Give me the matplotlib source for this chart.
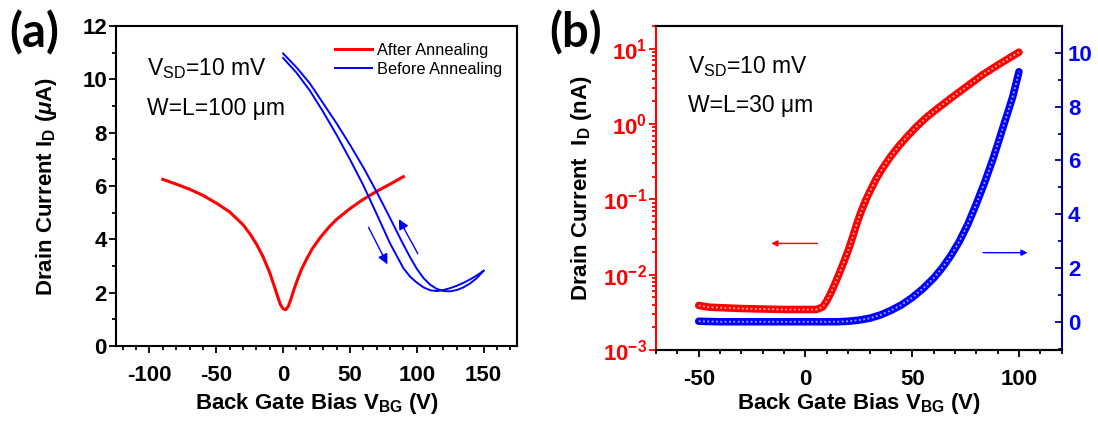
"""Transfer curves of the graphene FETs: (a) linear scale, (b) log / linear twin axes."""

import matplotlib

matplotlib.use("Agg")
import matplotlib.pyplot as plt
from matplotlib.ticker import MultipleLocator, LogLocator

plt.rcParams["font.family"] = ["Liberation Sans", "DejaVu Sans"]
plt.rcParams["mathtext.fontset"] = "custom"
plt.rcParams["mathtext.it"] = "Liberation Sans:italic:bold"
plt.rcParams["mathtext.rm"] = "Liberation Sans"
plt.rcParams["axes.unicode_minus"] = False

# ---- panel (a): I_D (uA) vs V_BG, W=L=100 um ----
after_v = [-90, -80, -70, -60, -50, -40, -30, -25, -20, -15, -10, -7, -4, -2, 0, 2, 4, 6, 8,
           11, 14, 18, 22, 28, 34, 40, 50, 60, 70, 80, 90]
after_i = [6.25, 6.07, 5.88, 5.65, 5.36, 5.03, 4.55, 4.22, 3.83, 3.35, 2.75, 2.3, 1.85, 1.55,
           1.4, 1.36, 1.5, 1.78, 2.1, 2.52, 2.9, 3.3, 3.66, 4.08, 4.44, 4.75, 5.15, 5.5, 5.8,
           6.07, 6.35]

# forward sweep 0 -> 150 V (left branch), backward sweep 150 -> 0 V (right branch)
fwd_v = [0, 10, 20, 30, 40, 50, 60, 70, 80, 90, 95, 100, 105, 110, 115, 120, 125, 130, 135,
         140, 145, 150]
fwd_i = [10.8, 10.25, 9.58, 8.78, 7.92, 7.0, 6.03, 4.95, 3.85, 2.92, 2.6, 2.38, 2.2, 2.09,
         2.06, 2.1, 2.17, 2.26, 2.37, 2.5, 2.65, 2.82]
bwd_v = [150, 145, 140, 135, 130, 125, 120, 115, 110, 105, 100, 95, 90, 85, 80, 70, 60, 50,
         40, 30, 20, 10, 0]
bwd_i = [2.82, 2.55, 2.35, 2.2, 2.1, 2.05, 2.06, 2.14, 2.3, 2.55, 2.9, 3.33, 3.8, 4.3, 4.8,
         5.78, 6.7, 7.55, 8.35, 9.1, 9.85, 10.45, 10.97]

# ---- panel (b): W=L=30 um ----
log_v = [-50, -45, -40, -30, -20, -10, 0, 5, 8, 10, 12, 14, 16, 18, 20, 22, 24, 26, 28, 30,
         33, 36, 40, 44, 48, 52, 57, 62, 68, 75, 83, 91, 100]
log_i = [3.9e-3, 3.7e-3, 3.65e-3, 3.55e-3, 3.5e-3, 3.45e-3, 3.45e-3, 3.45e-3, 3.7e-3, 4.5e-3,
         5.8e-3, 7.8e-3, 1.07e-2, 1.48e-2, 2.1e-2, 3.1e-2, 4.7e-2, 6.8e-2, 9.4e-2, 0.125,
         0.184, 0.256, 0.374, 0.521, 0.70, 0.923, 1.25, 1.62, 2.19, 3.07, 4.52, 6.3, 9.0]

lin_v = [-50, -40, -30, -20, -10, 0, 10, 15, 20, 25, 30, 35, 40, 45, 50, 55, 60, 64, 68, 72,
         76, 80, 84, 88, 91, 94, 97, 100]
lin_i = [0.02, 0.0, 0.0, 0.0, 0.0, 0.0, 0.0, 0.0, 0.02, 0.06, 0.13, 0.25, 0.42, 0.63, 0.9,
         1.23, 1.62, 2.0, 2.45, 2.98, 3.62, 4.38, 5.2, 6.1, 6.85, 7.6, 8.35, 9.3]

RED = "#ff0000"
BLUE = "#0000ff"
NAVY = "#00008b"
TICK_FS = 16
LABEL_FS = 16
NOTE_FS = 16.5

fig = plt.figure(figsize=(10.98, 4.21), dpi=100)

# panel (a)
ax1 = fig.add_axes([116 / 1098, 1 - 346 / 421, 401 / 1098, 320 / 421])
ax1.plot(after_v, after_i, color=RED, lw=2.2, label="After Annealing",
         solid_joinstyle="round")
ax1.plot(fwd_v, fwd_i, color=BLUE, lw=1.4, label="Before Annealing", solid_joinstyle="round")
ax1.plot(bwd_v, bwd_i, color=BLUE, lw=1.4, solid_joinstyle="round")
ax1.annotate("", xy=(79, 2.97), xytext=(63, 4.54),
             arrowprops=dict(arrowstyle="-|>", color=BLUE, lw=1.0, mutation_scale=15))
ax1.annotate("", xy=(85.6, 4.85), xytext=(101.8, 3.37),
             arrowprops=dict(arrowstyle="-|>", color=BLUE, lw=1.0, mutation_scale=15))
ax1.set_xlim(-125, 175)
ax1.set_ylim(0, 12)
ax1.xaxis.set_major_locator(MultipleLocator(50))
ax1.xaxis.set_minor_locator(MultipleLocator(10))
ax1.yaxis.set_major_locator(MultipleLocator(2))
ax1.yaxis.set_minor_locator(MultipleLocator(1))
ax1.tick_params(which="both", direction="out", width=1.3, labelsize=TICK_FS)
ax1.tick_params(which="major", length=5)
ax1.tick_params(which="minor", length=3)
ax1.tick_params(axis="x", pad=9)
ax1.tick_params(axis="y", pad=1.5)
for lab in ax1.get_xticklabels() + ax1.get_yticklabels():
    lab.set_fontweight("bold")
for sp in ax1.spines.values():
    sp.set_linewidth(1.5)
ax1.set_xlabel(r"Back Gate Bias V$_\mathregular{BG}$ (V)", fontsize=LABEL_FS,
               fontweight="bold", labelpad=3.5)
ax1.set_ylabel(r"Drain Current I$_\mathregular{D}$ ($\mu$A)", fontsize=LABEL_FS,
               fontweight="bold", labelpad=17)
ax1.text(0.077, 0.847, r"V$_\mathregular{SD}$=10 mV", transform=ax1.transAxes,
         fontsize=NOTE_FS, va="baseline")
ax1.text(0.077, 0.722, "W=L=100 \u03bcm", transform=ax1.transAxes, fontsize=NOTE_FS,
         va="baseline")
ax1.legend(loc="upper left", bbox_to_anchor=(0.546, 0.948), frameon=False, fontsize=11.8,
           handlelength=2.25, handletextpad=0.3, labelspacing=0.28, borderpad=0,
           borderaxespad=0)

# panel (b)
ax2 = fig.add_axes([656 / 1098, 1 - 350 / 421, 405.7 / 1098, 324 / 421])
ax3 = ax2.twinx()
ax2.plot(log_v, log_i, color=RED, lw=5.4, solid_capstyle="round", solid_joinstyle="round")
ax2.plot(log_v, log_i, color="#ffb3b3", lw=1.3, ls=(0, (1, 1.4)))
ax3.plot(lin_v, lin_i, color=BLUE, lw=5.4, solid_capstyle="round", solid_joinstyle="round")
ax3.plot(lin_v, lin_i, color="#a8a8ff", lw=1.3, ls=(0, (1, 1.4)))
ax2.annotate("", xy=(-17.3, 0.026), xytext=(6.9, 0.026),
             arrowprops=dict(arrowstyle="-|>", color=RED, lw=1.0, mutation_scale=9))
ax3.annotate("", xy=(105.3, 2.57), xytext=(81.9, 2.57),
             arrowprops=dict(arrowstyle="-|>", color=BLUE, lw=1.0, mutation_scale=9))

ax2.set_xlim(-70, 120)
ax2.set_yscale("log")
ax2.set_ylim(1e-3, 20)
ax3.set_ylim(-1.05, 11)
ax2.xaxis.set_major_locator(MultipleLocator(50))
ax2.xaxis.set_minor_locator(MultipleLocator(10))
ax2.yaxis.set_major_locator(LogLocator(base=10, numticks=10))
ax2.yaxis.set_minor_locator(LogLocator(base=10, subs=range(2, 10), numticks=10))
ax3.yaxis.set_major_locator(MultipleLocator(2))
ax3.yaxis.set_minor_locator(MultipleLocator(1))

ax2.tick_params(axis="x", which="both", direction="out", width=1.3, labelsize=TICK_FS, pad=9)
ax2.tick_params(axis="y", which="both", direction="out", width=1.3, labelsize=TICK_FS,
                color=RED, labelcolor=RED, pad=1.5)
ax2.tick_params(which="major", length=5)
ax2.tick_params(which="minor", length=3)
ax3.tick_params(axis="y", which="both", direction="in", width=1.3, labelsize=TICK_FS,
                color=NAVY, labelcolor=BLUE, pad=4.5)
ax3.tick_params(which="major", length=5)
ax3.tick_params(which="minor", length=3)
for lab in ax2.get_xticklabels() + ax2.get_yticklabels() + ax3.get_yticklabels():
    lab.set_fontweight("bold")
for sp in list(ax2.spines.values()) + list(ax3.spines.values()):
    sp.set_linewidth(1.5)
ax2.spines["left"].set_color(RED)
ax2.spines["right"].set_visible(False)
ax3.spines["left"].set_visible(False)
ax3.spines["right"].set_color(NAVY)
ax2.set_xlabel(r"Back Gate Bias V$_\mathregular{BG}$ (V)", fontsize=LABEL_FS,
               fontweight="bold", labelpad=0.5)
ax2.set_ylabel(r"Drain Current  I$_\mathregular{D}$ (nA)", fontsize=LABEL_FS,
               fontweight="bold", labelpad=6.5)
ax2.text(0.08, 0.854, r"V$_\mathregular{SD}$=10 mV", transform=ax2.transAxes,
         fontsize=NOTE_FS, va="baseline")
ax2.text(0.08, 0.7355, "W=L=30 \u03bcm", transform=ax2.transAxes, fontsize=NOTE_FS,
         va="baseline")

fig.text(9 / 1098, 1 - 10 / 421, "(a)", fontsize=34, fontweight="bold", va="top", ha="left",
         family=["Lato", "Liberation Sans"])
fig.text(549 / 1098, 1 - 10 / 421, "(b)", fontsize=34, fontweight="bold", va="top", ha="left",
         family=["Lato", "Liberation Sans"])

fig.savefig("out.png", dpi=100)
